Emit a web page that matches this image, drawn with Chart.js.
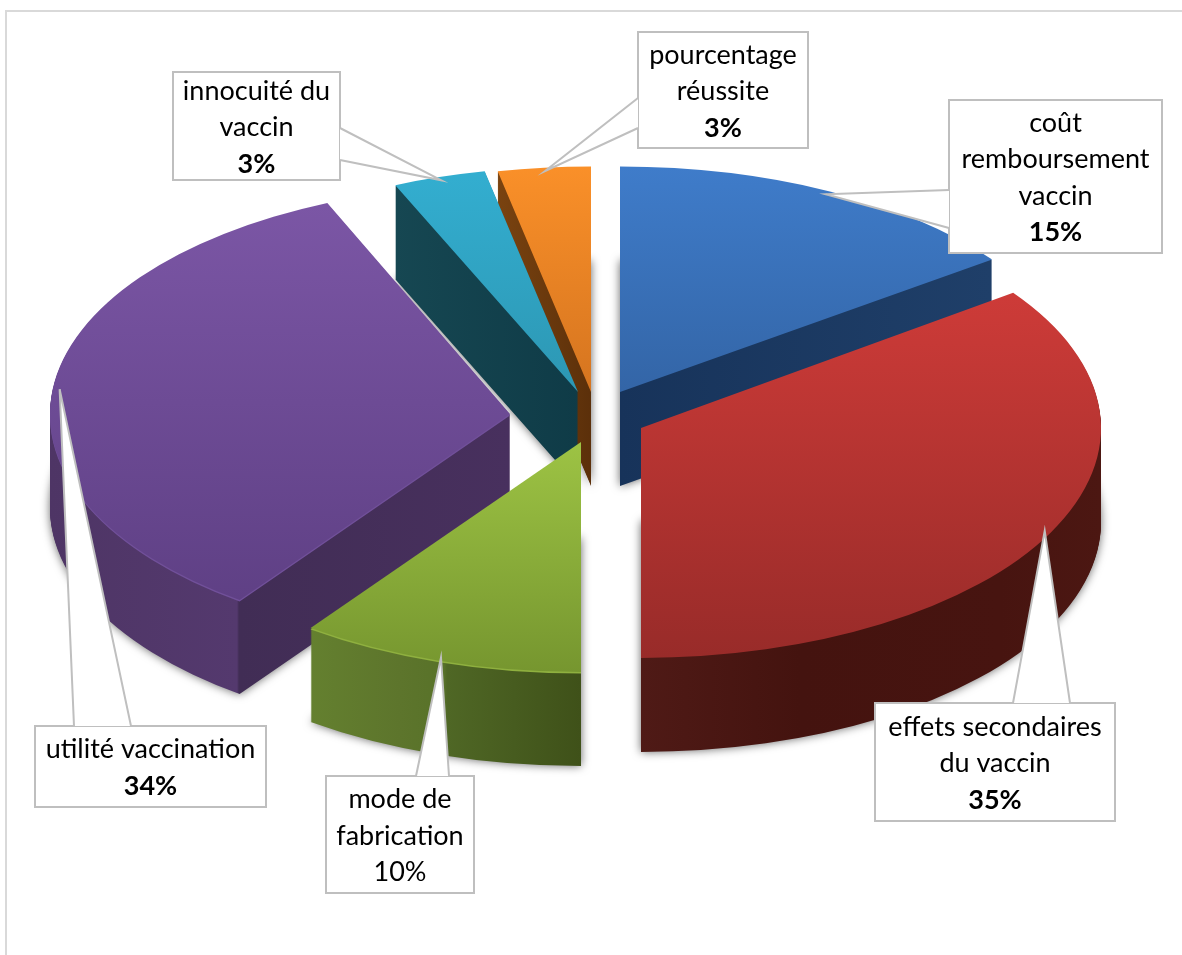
<!DOCTYPE html>
<html>
<head>
<meta charset="utf-8">
<style>
  html, body { margin: 0; padding: 0; background: #fff; }
  #wrap { position: absolute; left: 0; top: 0; width: 1182px; height: 955px; }
  #frame { position: absolute; left: 5px; top: 10px; right: 0; bottom: 0; border-left: 2px solid #d9d9d9; border-top: 2px solid #d9d9d9; }
</style>
</head>
<body>
<div id="wrap">
  <div id="frame"></div>
  <canvas id="chart" width="1182" height="955"></canvas>
</div>
<script src="https://cdn.jsdelivr.net/npm/chart.js@4/dist/chart.umd.min.js"></script>
<script>
// Values (percent)
const categories = ['coût remboursement vaccin', 'effets secondaires du vaccin', 'mode de fabrication', 'utilité vaccination', 'innocuité du vaccin', 'pourcentage réussite'];
const shares = [15, 35, 10, 33.5, 3.25, 3.25];
const boldShare = [true, true, false, true, true, true];

// Pie look: squash, thickness, where it sits
const centerX = 600, centerY = 412, pieRadius = 460, depth = 94;
const sliceTilt = [0.49, 0.5, 0.5, 0.5, 0.49, 0.49];
const drawOrder = [5, 4, 0, 3, 2, 1]; // back to front
const sliceShift = [[20, -20], [41, 16], [-19, 30], [-90, 2], [-22, -20], [-9, -20]];
const rimBevel = ['', '', '#8fb03f', '#71509a', '', ''];

// top face: [colour at top, colour at bottom, y top, y bottom]
const topFaces = [
  ['#3f7cca', '#2e5b97', 167, 490],
  ['#cd3b38', '#982b29', 295, 660],
  ['#9dc344', '#76962f', 442, 672],
  ['#7b56a5', '#5f4085', 205, 600],
  ['#33aed0', '#2a8ea8', 170, 480],
  ['#fa9029', '#c76a1c', 165, 480]
];
// side walls: horizontal gradient stops [x, colour]
const sideWalls = [
  [[620, '#17335a'], [990, '#1f3f69']],
  [[641, '#4f1a16'], [800, '#44130f'], [1000, '#471410'], [1100, '#4c1712']],
  [[310, '#64802f'], [400, '#5d752c'], [444, '#587229'], [447, '#4f6725'], [581, '#3f5119']],
  [[50, '#4e3565'], [237, '#54396e'], [239, '#412d55'], [510, '#48305e']],
  [[394, '#164752'], [580, '#0f3b47']],
  [[497, '#7a4310'], [590, '#5c300a']]
];

// callout boxes: [left, top, right, bottom], wedge base points on one box edge
const boxes = [
  [949, 100, 1162, 253],
  [875, 703, 1115, 821],
  [326, 776, 474, 893],
  [35, 726, 266, 807],
  [173, 72, 340, 180],
  [638, 32, 808, 148]
];
const wedgeBase = [
  [[949, 190], [949, 228]],
  [[1013, 703], [1070, 703]],
  [[416, 776], [449, 776]],
  [[74, 726], [131, 726]],
  [[340, 128], [340, 160]],
  [[638, 98], [638, 128]]
];
const labelFont = 'Lato';
const labelSize = 27;
const lineHeight = 36.5;

function toPie(ctx, arc, i, extraY) {
  ctx.translate(centerX + sliceShift[i][0], centerY + sliceShift[i][1] + extraY);
  ctx.scale(1, sliceTilt[i]);
  ctx.translate(-arc.x, -arc.y);
}

function withFill(arc, fill, draw) {
  const saved = arc.options;
  arc.options = Object.assign({}, saved, { backgroundColor: fill, borderWidth: 0 });
  draw();
  arc.options = saved;
}

const pie3d = {
  id: 'pie3d',
  beforeDatasetsDraw(chart) {
    const ctx = chart.ctx;
    const arcs = chart.getDatasetMeta(0).data;

    drawOrder.forEach(i => {
      const arc = arcs[i];
      const tilt = sliceTilt[i];
      const shiftX = centerX + sliceShift[i][0] - arc.x;
      const shiftY = centerY + sliceShift[i][1];

      // side walls, stacked copies of the slice going down
      const wall = sideWalls[i];
      const x0 = wall[0][0], span = wall[wall.length - 1][0] - x0;
      const wallFill = ctx.createLinearGradient(x0 - shiftX, 0, x0 + span - shiftX, 0);
      wall.forEach(s => wallFill.addColorStop((s[0] - x0) / span, s[1]));
      withFill(arc, wallFill, () => {
        for (let k = depth; k > 0; k--) {
          ctx.save();
          // only the lowest copy throws the soft shadow
          if (k === depth) {
            ctx.shadowColor = 'rgba(0,0,0,0.6)';
            ctx.shadowBlur = 10;
          }
          toPie(ctx, arc, i, k);
          arc.draw(ctx);
          ctx.restore();
        }
      });

      // top face
      const face = topFaces[i];
      const toUserY = y => arc.y + (y - shiftY) / tilt;
      if (rimBevel[i]) {
        ctx.save();
        toPie(ctx, arc, i, 1.5);
        withFill(arc, rimBevel[i], () => arc.draw(ctx));
        ctx.restore();
      }
      ctx.save();
      toPie(ctx, arc, i, 0);
      const topFill = ctx.createLinearGradient(0, toUserY(face[2]), 0, toUserY(face[3]));
      topFill.addColorStop(0, face[0]);
      topFill.addColorStop(1, face[1]);
      withFill(arc, topFill, () => arc.draw(ctx));
      ctx.restore();
    });
    return false;
  },
  afterDraw(chart) {
    const ctx = chart.ctx;
    const arcs = chart.getDatasetMeta(0).data;

    categories.forEach((name, i) => {
      const arc = arcs[i];
      const b = boxes[i];
      const w = wedgeBase[i];
      const mid = (arc.startAngle + arc.endAngle) / 2;
      const tipX = centerX + sliceShift[i][0] + Math.cos(mid) * arc.outerRadius * 0.985;
      const tipY = centerY + sliceShift[i][1] + Math.sin(mid) * arc.outerRadius * 0.985 * sliceTilt[i];

      ctx.save();
      ctx.strokeStyle = '#bfbfbf';
      ctx.lineWidth = 2;
      ctx.fillStyle = '#fff';
      ctx.beginPath();
      ctx.rect(b[0], b[1], b[2] - b[0], b[3] - b[1]);
      ctx.fill();
      ctx.stroke();
      ctx.beginPath();
      ctx.moveTo(w[0][0], w[0][1]);
      ctx.lineTo(tipX, tipY);
      ctx.lineTo(w[1][0], w[1][1]);
      ctx.closePath();
      ctx.fill();
      ctx.beginPath();
      ctx.moveTo(w[0][0], w[0][1]);
      ctx.lineTo(tipX, tipY);
      ctx.lineTo(w[1][0], w[1][1]);
      ctx.stroke();

      // wrap the name to the box width
      ctx.font = labelSize + 'px ' + labelFont;
      const lines = [];
      let line = '';
      name.split(' ').forEach(word => {
        const next = line ? line + ' ' + word : word;
        if (line && ctx.measureText(next).width > b[2] - b[0] - 10) {
          lines.push(line);
          line = word;
        } else {
          line = next;
        }
      });
      lines.push(line);

      const cx = (b[0] + b[2]) / 2;
      const count = lines.length + 1;
      let y = (b[1] + b[3]) / 2 - (count - 1) * lineHeight / 2 + 1.5;
      ctx.fillStyle = '#000';
      ctx.textAlign = 'center';
      ctx.textBaseline = 'middle';
      lines.forEach(l => {
        ctx.fillText(l, cx, y);
        y += lineHeight;
      });
      ctx.font = (boldShare[i] ? 'bold ' : '') + labelSize + 'px ' + labelFont;
      ctx.fillText(Math.round(shares[i]) + '%', cx, y);
      ctx.restore();
    });
  }
};

new Chart(document.getElementById('chart'), {
  type: 'pie',
  data: {
    labels: categories,
    datasets: [{ data: shares, borderWidth: 0, backgroundColor: topFaces.map(f => f[0]) }]
  },
  options: {
    responsive: false,
    animation: false,
    radius: pieRadius,
    layout: { padding: 0 },
    plugins: { legend: { display: false }, tooltip: { enabled: false } }
  },
  plugins: [pie3d]
});
</script>
</body>
</html>
